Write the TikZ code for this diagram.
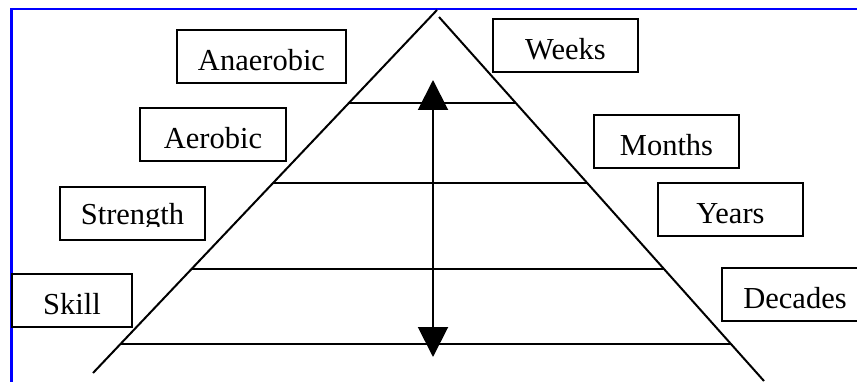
\documentclass[tikz,border=0pt]{standalone}
\usepackage{fontspec}
\setmainfont{Liberation Serif}
\usetikzlibrary{arrows.meta}
\tikzset{
  box/.style={draw, line width=2pt, minimum height=53pt, inner sep=0pt,
    text height=28pt, text depth=0pt, font=\fontsize{30.5}{33}\selectfont},
  txt/.style={inner sep=0pt, anchor=base, font=\fontsize{30.5}{33}\selectfont},
  pyr/.style={line width=2pt},
  border/.style={draw=blue, line width=2.5pt},
  tri/.style={{Triangle[width=30pt,length=30pt]}-{Triangle[width=30pt,length=30pt]}, line width=2pt}
}
\begin{document}
\begin{tikzpicture}[x=1pt,y=-1pt]
\clip (0,0) rectangle (857,382);
\fill[white] (0,0) rectangle (857,382);
% blue border
\draw[border] (11.5,382) -- (11.5,9) -- (857,9);
% pyramid
\coordinate (apexL) at (437,10);
\coordinate (baseL) at (93,373);
\coordinate (apexR) at (439,17);
\coordinate (baseR) at (764,381);
\draw[pyr] (apexL) -- (baseL);
\draw[pyr] (apexR) -- (baseR);
\draw[pyr] (349,103) -- (516,103);
\draw[pyr] (273,183) -- (587,183);
\draw[pyr] (192,269) -- (664,269);
\draw[pyr] (121,344) -- (731,344);
% arrow
\coordinate (atop) at (433,80);
\coordinate (abot) at (433,357);
\draw[tri] (atop) -- (abot);
% left boxes
\node[box, minimum width=169pt] (anaerobic) at (261.5,57) {Anaerobic};
\node[box, minimum width=146pt] (aerobic) at (213,135) {Aerobic};
\node[box, minimum width=145pt, minimum height=53pt] (strength) at (132.5,213.5) {};
\begin{scope}
\clip (60,187) rectangle (205,226.5);
\node[txt] (strengthtxt) at (132.5,225) {Strength};
\end{scope}
\node[box, minimum width=120pt] (skill) at (72,300.5) {Skill};
% right boxes
\node[box, minimum width=145pt] (weeks) at (565.5,45.5) {Weeks};
\node[box, minimum width=145pt] (months) at (666.5,141.5) {Months};
\node[box, minimum width=145pt] (years) at (730.5,209.5) {Years};
\node[box, minimum width=220pt] (decades) at (832,294.5) {};
\node[txt] (decadestxt) at (795,308) {Decades};
\end{tikzpicture}
\end{document}
